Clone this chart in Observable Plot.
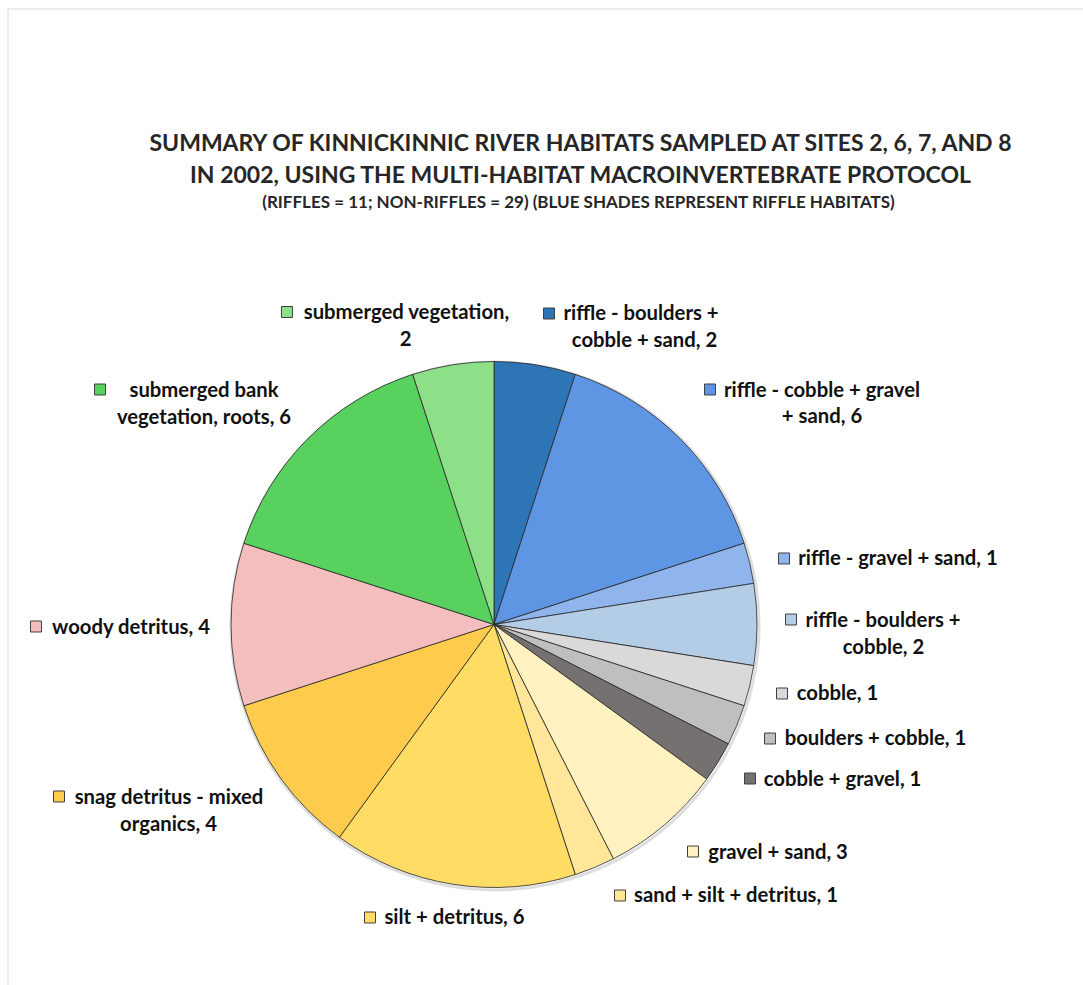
<!DOCTYPE html>
<html><head><meta charset="utf-8">
<script src="https://cdn.jsdelivr.net/npm/d3@7"></script>
<script src="https://cdn.jsdelivr.net/npm/@observablehq/plot@0.6"></script>
<style>html,body{margin:0;padding:0;background:#fff}</style>
</head><body><div id="chart"></div>
<script>
// ---------- data ----------
const categories = [
  "riffle - boulders + cobble + sand",
  "riffle - cobble + gravel + sand",
  "riffle - gravel + sand",
  "riffle - boulders + cobble",
  "cobble",
  "boulders + cobble",
  "cobble + gravel",
  "gravel + sand",
  "sand + silt + detritus",
  "silt + detritus",
  "snag detritus - mixed organics",
  "woody detritus",
  "submerged bank vegetation, roots",
  "submerged vegetation"
];
const values = [2, 6, 1, 2, 1, 1, 1, 3, 1, 6, 4, 4, 6, 2];
const colors = [
  "#2E75B6", "#5E96E4", "#8FB5EC", "#B4CDE7",
  "#D9D9D9", "#BFBFBF", "#767171",
  "#FFF2C0", "#FFE699", "#FFDC63", "#FECB4C",
  "#F4BEBE", "#59D15E", "#8DE088"
];
const labelLines = [
  ["riffle - boulders +", "cobble + sand, 2"],
  ["riffle - cobble + gravel", "+ sand, 6"],
  ["riffle - gravel + sand, 1"],
  ["riffle - boulders +", "cobble, 2"],
  ["cobble, 1"],
  ["boulders + cobble, 1"],
  ["cobble + gravel, 1"],
  ["gravel + sand, 3"],
  ["sand + silt + detritus, 1"],
  ["silt + detritus, 6"],
  ["snag detritus - mixed", "organics, 4"],
  ["woody detritus, 4"],
  ["submerged bank", "vegetation, roots, 6"],
  ["submerged vegetation,", "2"]
];
const titleLines = [
  "SUMMARY OF KINNICKINNIC RIVER HABITATS SAMPLED AT SITES 2, 6, 7, AND 8",
  "IN 2002, USING THE MULTI-HABITAT MACROINVERTEBRATE PROTOCOL"
];
const subtitleLine = "(RIFFLES = 11; NON-RIFFLES = 29) (BLUE SHADES REPRESENT RIFFLE HABITATS)";

// ---------- layout (pixel positions) ----------
const W = 1083, H = 985;
const pieLayout = {cx: 494, cy: 624.5, r: 263};
const titleLayout = [{x: 580, y: 143}, {x: 580, y: 175}];
const subtitleLayout = {x: 578, y: 202};
// swatch centre and the centre of each text line
const labelLayout = [
  {s: [548.5, 313], t: [[640.5, 313], [644, 340]]},
  {s: [709.5, 389], t: [[821.5, 390], [821.5, 416]]},
  {s: [783.5, 558], t: [[897.5, 558]]},
  {s: [790.5, 619], t: [[882.5, 620], [883, 647]]},
  {s: [781.5, 693], t: [[837, 693]]},
  {s: [769.5, 738], t: [[875, 738]]},
  {s: [749.5, 778], t: [[842, 779]]},
  {s: [692.5, 851], t: [[777.5, 852]]},
  {s: [619.5, 895], t: [[735.5, 895]]},
  {s: [369.5, 917], t: [[454, 917]]},
  {s: [58.5, 796], t: [[168.5, 797], [168, 824]]},
  {s: [35.5, 626], t: [[130.5, 627]]},
  {s: [99.5, 389], t: [[203.5, 390], [203.5, 417]]},
  {s: [286.5, 311.5], t: [[406, 312], [405, 339]]}
];

// ---------- tables built from the arrays ----------
const swatches = categories.map((c, i) => ({category: c, x: labelLayout[i].s[0], y: labelLayout[i].s[1]}));
const lines = categories.flatMap((c, i) => labelLines[i].map((t, j) => ({
  category: c, text: t, x: labelLayout[i].t[j][0], y: labelLayout[i].t[j][1]
})));
const titles = titleLines.map((t, i) => ({text: t, ...titleLayout[i]}));

function pieMark(index, scales) {
  const sx = scales.x, sy = scales.y;
  const cx = sx(pieLayout.cx), cy = sy(pieLayout.cy);
  const r = sx(pieLayout.cx + pieLayout.r) - cx;
  const color = scales.color || d3.scaleOrdinal(categories, colors);
  const arcs = d3.pie().sort(null).value((d, i) => values[i])(categories);
  const g = d3.create("svg:g").attr("transform", `translate(${cx},${cy})`);
  g.append("circle").attr("r", r + 1).attr("cx", 1).attr("cy", 1.5).attr("fill", "none")
    .attr("stroke", "#000").attr("stroke-opacity", 0.13).attr("stroke-width", 3);
  g.selectAll("path.slice").data(arcs).join("path")
    .attr("class", "slice")
    .attr("d", d3.arc().innerRadius(0).outerRadius(r))
    .attr("fill", d => color(d.data))
    .attr("stroke", "#262626").attr("stroke-width", 0.8)
    .attr("stroke-linejoin", "round");
  return g.node();
}

const font = "Lato, 'Open Sans', 'Liberation Sans', sans-serif";
const chart = Plot.plot({
  width: W, height: H, margin: 0,
  x: {domain: [0, W], range: [0, W], axis: null},
  y: {domain: [0, H], range: [0, H], axis: null},
  color: {domain: categories, range: colors},
  style: {fontFamily: font, background: "#fff", overflow: "hidden"},
  marks: [
    Plot.frame({stroke: "#d9d9d9", insetLeft: 7.5, insetTop: 8.5, insetRight: -20, insetBottom: -20}),
    pieMark,
    Plot.dot(swatches, {x: "x", y: "y", fill: "category", symbol: "square", r: 6.2,
      stroke: "#404040", strokeWidth: 1}),
    Plot.text(lines, {x: "x", y: "y", text: "text", textAnchor: "middle", lineAnchor: "middle",
      fontSize: 20.3, fontWeight: 700, fill: "#111"}),
    Plot.text(titles, {x: "x", y: "y", text: "text", textAnchor: "middle", lineAnchor: "middle",
      fontSize: 23, fontWeight: 700, fill: "#262626"}),
    Plot.text([subtitleLine], {x: subtitleLayout.x, y: subtitleLayout.y, text: d => d,
      textAnchor: "middle", lineAnchor: "middle", fontSize: 17, fontWeight: 700, fill: "#262626"})
  ]
});
document.getElementById("chart").appendChild(chart);
</script>
</body></html>
